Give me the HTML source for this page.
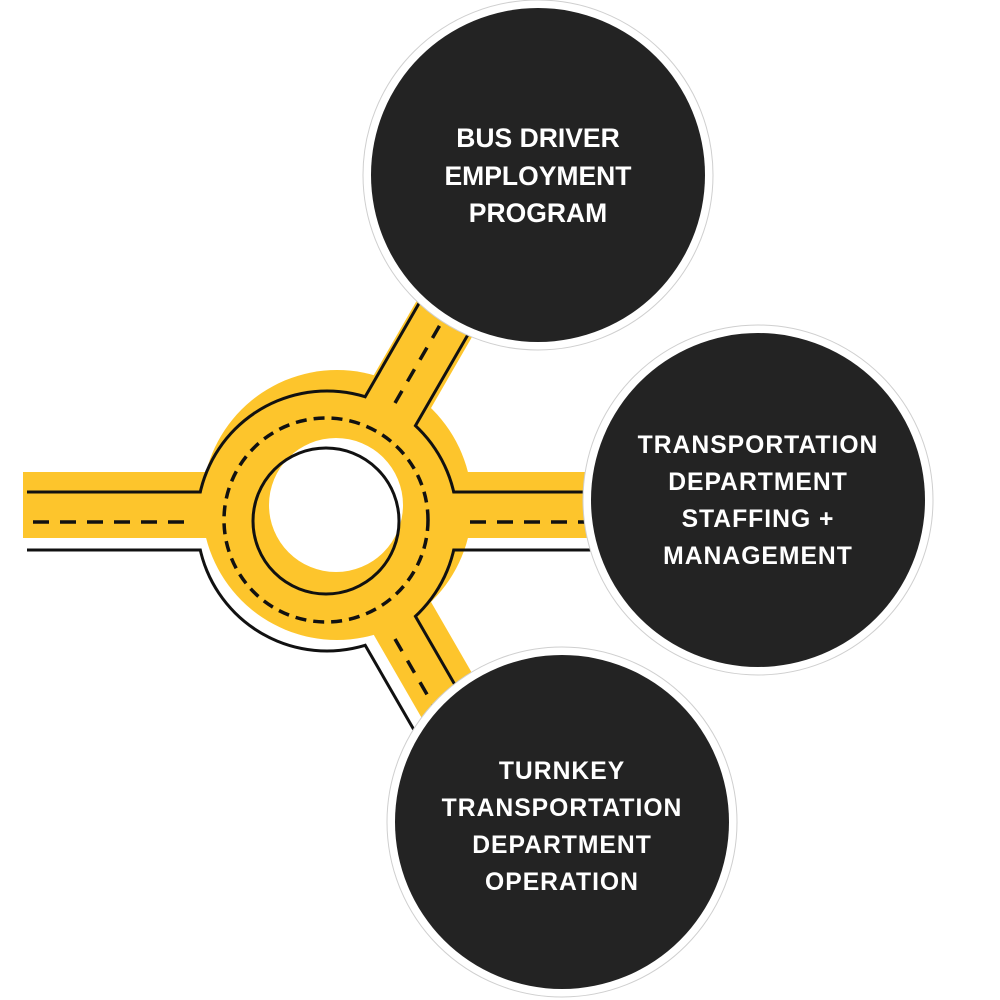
<!DOCTYPE html>
<html><head><meta charset="utf-8"><style>
html,body{margin:0;padding:0;background:#fff;}
svg{display:block;}
text{font-family:"Liberation Sans",sans-serif;font-weight:bold;fill:#fff;text-anchor:middle;}
</style></head><body>
<svg width="1000" height="1000" viewBox="0 0 1000 1000" xmlns="http://www.w3.org/2000/svg">
<defs>
<mask id="outline" maskUnits="userSpaceOnUse" x="0" y="0" width="1000" height="1000">
  <rect x="0" y="0" width="1000" height="1000" fill="black"/>
  <g stroke="white" fill="white">
    <line x1="0" y1="521" x2="700" y2="521" stroke-width="61"/>
    <line x1="327" y1="521" x2="500" y2="221" stroke-width="61"/>
    <line x1="327" y1="521" x2="500" y2="821" stroke-width="61"/>
    <circle cx="327" cy="521" r="131.5" stroke="none"/>
  </g>
  <g stroke="black" fill="black">
    <line x1="0" y1="521" x2="700" y2="521" stroke-width="55"/>
    <line x1="327" y1="521" x2="500" y2="221" stroke-width="55"/>
    <line x1="327" y1="521" x2="500" y2="821" stroke-width="55"/>
    <circle cx="327" cy="521" r="128.5" stroke="none"/>
  </g>
  <rect x="0" y="0" width="27" height="1000" fill="black"/>
</mask>
</defs>

<g transform="translate(10,-16)" fill="#fdc52c" stroke="#fdc52c">
  <line x1="13" y1="521" x2="700" y2="521" stroke-width="66"/>
  <line x1="327" y1="521" x2="500" y2="221" stroke-width="66"/>
  <line x1="327" y1="521" x2="500" y2="821" stroke-width="66"/>
  <circle cx="327" cy="521" r="135" stroke="none"/>
</g>
<circle cx="336" cy="505" r="67" fill="#fff"/>

<rect x="0" y="0" width="1000" height="1000" fill="#111" mask="url(#outline)"/>
<circle cx="326" cy="521" r="73" fill="none" stroke="#111" stroke-width="3"/>

<g stroke="#111" stroke-width="3.5" fill="none">
  <circle cx="326" cy="520" r="102" stroke-dasharray="11 7"/>
  <line x1="33" y1="522" x2="188" y2="522" stroke-dasharray="16 11"/>
  <line x1="470" y1="522" x2="700" y2="522" stroke-dasharray="16 11"/>
  <line x1="395" y1="403" x2="500" y2="221" stroke-dasharray="14 11"/>
  <line x1="395" y1="639" x2="500" y2="821" stroke-dasharray="14 11"/>
</g>

<g>
  <circle cx="538" cy="175" r="175" fill="#fff" stroke="#cfcfcf" stroke-width="1"/>
  <circle cx="538" cy="175" r="167" fill="#232323"/>
  <circle cx="758" cy="500" r="175" fill="#fff" stroke="#cfcfcf" stroke-width="1"/>
  <circle cx="758" cy="500" r="167" fill="#232323"/>
  <circle cx="562" cy="822" r="175" fill="#fff" stroke="#cfcfcf" stroke-width="1"/>
  <circle cx="562" cy="822" r="167" fill="#232323"/>
</g>

<g font-size="26.5">
  <text x="538" y="147">BUS DRIVER</text>
  <text x="538" y="185">EMPLOYMENT</text>
  <text x="538" y="222">PROGRAM</text>
</g>
<g font-size="24.7" letter-spacing="1">
  <text x="758" y="453">TRANSPORTATION</text>
  <text x="758" y="490">DEPARTMENT</text>
  <text x="758" y="527">STAFFING +</text>
  <text x="758" y="564">MANAGEMENT</text>
</g>
<g font-size="24.7" letter-spacing="1">
  <text x="562" y="779">TURNKEY</text>
  <text x="562" y="816">TRANSPORTATION</text>
  <text x="562" y="853">DEPARTMENT</text>
  <text x="562" y="890">OPERATION</text>
</g>
</svg>
</body></html>
